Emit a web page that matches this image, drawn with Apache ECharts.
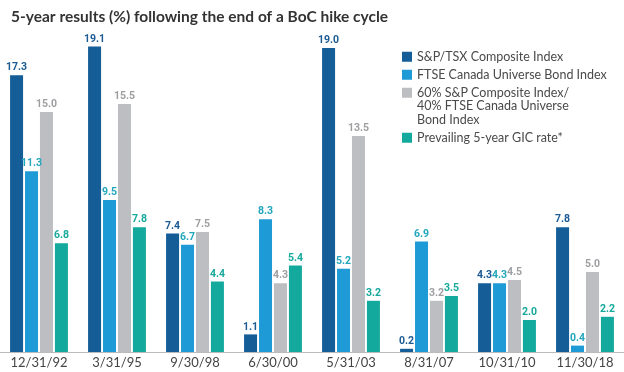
<!DOCTYPE html>
<html><head><meta charset="utf-8">
<script src="https://cdn.jsdelivr.net/npm/echarts@6/dist/echarts.min.js"></script>
<style>html,body{margin:0;padding:0;background:#fff}#c{width:624px;height:372px}</style>
</head><body><div id="c"></div>
<script>
const categories = ['12/31/92','3/31/95','9/30/98','6/30/00','5/31/03','8/31/07','10/31/10','11/30/18'];
const seriesNames = ['S&P/TSX Composite Index','FTSE Canada Universe Bond Index','60% S&P Composite Index/\n40% FTSE Canada Universe\nBond Index','Prevailing 5-year GIC rate*'];
const spTsx = [17.3, 19.1, 7.4, 1.1, 19.0, 0.2, 4.3, 7.8];
const ftse = [11.3, 9.5, 6.7, 8.3, 5.2, 6.9, 4.3, 0.4];
const mix6040 = [15.0, 15.5, 7.5, 4.3, 13.5, 3.2, 4.5, 5.0];
const gic = [6.8, 7.8, 4.4, 5.4, 3.2, 3.5, 2.0, 2.2];

const colors = ['#155d97', '#1e9ad6', '#bdbec1', '#14a99d'];
const labelColors = ['#1b5a93', '#22a6bc', '#9d9ea1', '#17a99c'];
const data = [spTsx, ftse, mix6040, gic];

const legendTops = [45, 63, 54, 126];
const legends = seriesNames.map((n, i) => ({
  orient: 'vertical', left: 397, top: legendTops[i],
  itemWidth: 10, itemHeight: 10, icon: 'rect',
  textStyle: { fontSize: 12.5, color: '#4a4a4a', lineHeight: 13.5, fontFamily: 'Lato, sans-serif' },
  formatter: i === 2 ? (name => '\n\n' + name) : (name => name),
  data: [n]
}));

const chart = echarts.init(document.getElementById('c'));
chart.setOption({
  animation: false,
  textStyle: { fontFamily: 'Lato, "Open Sans", sans-serif' },
  title: {
    text: '5-year results (%) following the end of a BoC hike cycle',
    left: 6, top: 4,
    textStyle: { fontSize: 15.5, fontWeight: 'bold', color: '#333', fontFamily: 'Lato, sans-serif' }
  },
  legend: legends,
  grid: { left: 0, right: 0, top: 32, bottom: 20, containLabel: false },
  xAxis: {
    type: 'category', data: categories,
    axisLine: { lineStyle: { color: '#bbb', width: 1 } },
    axisTick: { show: false },
    axisLabel: { fontSize: 13, color: '#444', margin: 4, fontFamily: 'Lato, sans-serif' }
  },
  yAxis: { type: 'value', min: 0, max: 20, show: false, splitLine: { show: false } },
  series: data.map((d, i) => ({
    name: seriesNames[i], type: 'bar', data: d,
    barWidth: 13, barGap: '15%',
    itemStyle: { color: colors[i] },
    label: {
      show: true, position: 'top', distance: 2,
      formatter: p => p.value.toFixed(1),
      fontSize: 10.5, fontWeight: 'bold', color: labelColors[i], fontFamily: 'Roboto, sans-serif'
    }
  }))
});
</script></body></html>
